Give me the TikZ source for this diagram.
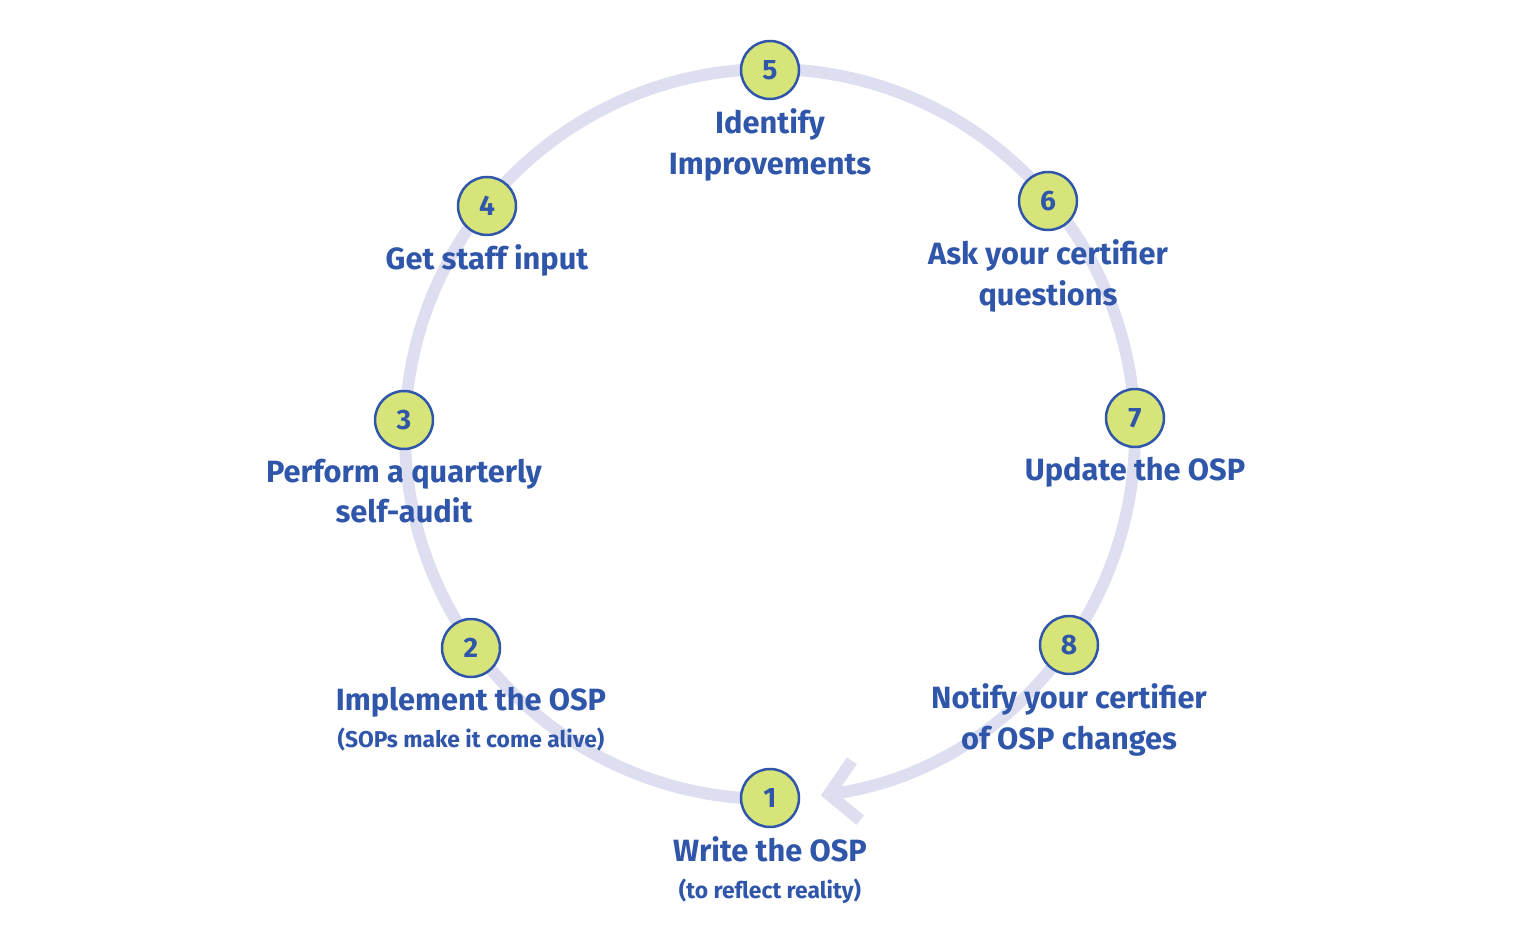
\documentclass[tikz,border=0pt]{standalone}
\usepackage{fontspec}
\setmainfont{Fira Sans}
\usetikzlibrary{positioning,arrows.meta}
\definecolor{ringcol}{RGB}{221,223,241}
\definecolor{stepfill}{RGB}{214,228,122}
\definecolor{stepblue}{RGB}{48,86,170}
\tikzset{
  stepdot/.style={circle, draw=stepblue, line width=0.05cm, fill=stepfill, minimum size=1.16cm, inner sep=0pt, text=stepblue, font=\fontsize{16}{16}\selectfont\bfseries},
  lbl/.style={align=center, text=stepblue, font=\fontsize{17.5}{23}\selectfont\bfseries, below=0.05cm of #1}
}
\begin{document}
\begin{tikzpicture}[x=0.02cm,y=-0.02cm]
\useasboundingbox (0,0) rectangle (1536,939);
% The ring with the arrow back to step one
\coordinate (c) at (770,434);
\draw[ringcol, line width=0.24cm, -{Straight Barb[length=0.55cm,width=1.2cm]}]
  (770,799) arc[start angle=90, end angle=442, radius=365];
% The steps, placed on the ring
\foreach \n/\x/\y in {1/770/798, 2/471/648, 3/404/420, 4/487/206, 5/770/70, 6/1048/201, 7/1135/418, 8/1069/645}
{
  \node[stepdot] (n\n) at (\x,\y) {\n};
}
% Labels under the steps
\node[lbl=n1] (t1) {Write the OSP\\[-2pt]{\fontsize{13}{15}\selectfont(to reflect reality)}};
\node[lbl=n2] (t2) {Implement the OSP\\[-2pt]{\fontsize{13}{15}\selectfont(SOPs make it come alive)}};
\node[lbl=n3] (t3) {Perform a quarterly\\self-audit};
\node[lbl=n4] (t4) {Get staff input};
\node[lbl=n5] (t5) {Identify\\Improvements};
\node[lbl=n6] (t6) {Ask your certifier\\questions};
\node[lbl=n7] (t7) {Update the OSP};
\node[lbl=n8] (t8) {Notify your certifier\\of OSP changes};
\end{tikzpicture}
\end{document}
